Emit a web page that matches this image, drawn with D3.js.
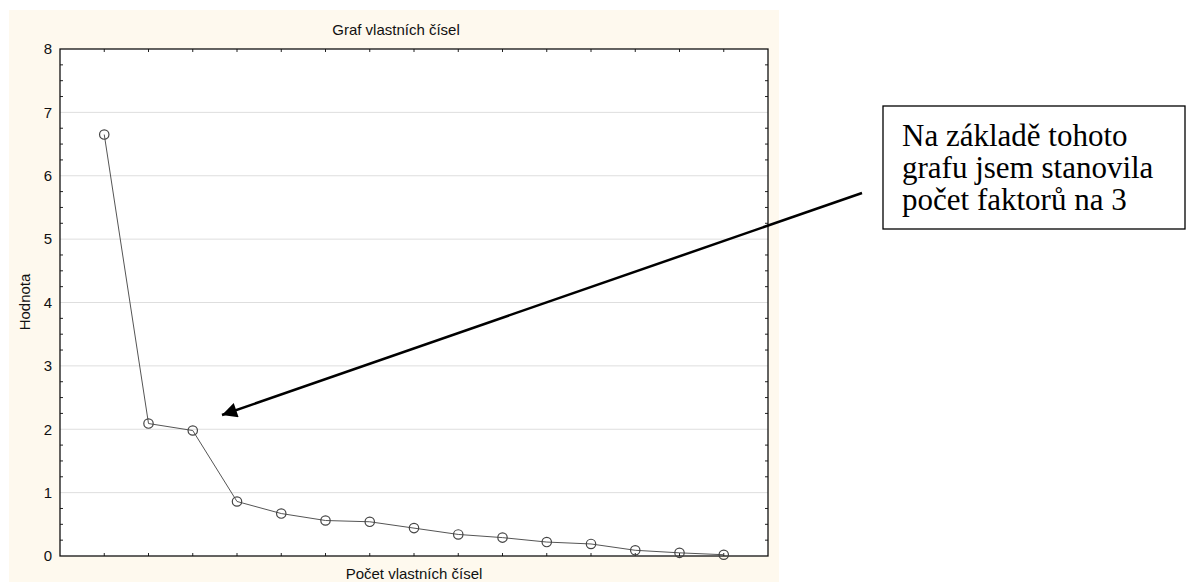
<!DOCTYPE html>
<html>
<head>
<meta charset="utf-8" />
<title>Graf vlastních čísel</title>
<style>
  body { margin: 0; background: #fff; }
  svg { display: block; }
</style>
</head>
<body>
<svg id="svg"></svg>
<script src="https://cdn.jsdelivr.net/npm/d3@7"></script>
<script>
// eigenvalues
var order = d3.range(1, 16);
var eigen = [6.65, 2.09, 1.98, 0.86, 0.67, 0.56, 0.54, 0.44, 0.34, 0.29, 0.22, 0.19, 0.09, 0.05, 0.02];
var yTicks = [0, 1, 2, 3, 4, 5, 6, 7, 8];
var noteLines = ["Na základě tohoto", "grafu jsem stanovila", "počet faktorů na 3"];

var width = 1189, height = 582;
var svg = d3.select("svg").attr("width", width).attr("height", height);

// cream panel behind the chart
svg.append("rect")
  .attr("x", 9).attr("y", 10).attr("width", 770).attr("height", 572)
  .attr("fill", "#fef9ee");

// note: "top" is taken by window.top, so use other names
var pL = 60, pR = 768, pT = 49, pB = 556;

var x = d3.scaleLinear().domain([0, 16]).range([pL, pR]);
var y = d3.scaleLinear().domain([0, 8]).range([pB, pT]);

svg.append("rect")
  .attr("x", pL).attr("y", pT).attr("width", pR - pL).attr("height", pB - pT)
  .attr("fill", "#fff");

// grid
svg.append("g").selectAll("line").data(yTicks.slice(1, -1)).enter().append("line")
  .attr("x1", pL).attr("x2", pR)
  .attr("y1", d => y(d)).attr("y2", d => y(d))
  .attr("stroke", "#dedede").attr("stroke-width", 1);

var fnt = "Arial, 'Liberation Sans', sans-serif";
var gl = svg.append("g").attr("transform", "translate(" + pL + ",0)")
  .call(d3.axisLeft(y).tickValues(yTicks).tickSize(0).tickPadding(8));
gl.selectAll("text").attr("font-family", fnt).attr("font-size", 15).attr("fill", "#111");
gl.select(".domain").remove();

// ticks point inward like the original
var minor = d3.range(0, 8.01, 0.25).filter(v => v % 1 !== 0);
var ticks = svg.append("g").attr("stroke", "#222").attr("stroke-width", 1);
ticks.selectAll(".ml").data(minor).enter().append("line")
  .attr("x1", pL).attr("x2", pL + 3).attr("y1", d => y(d)).attr("y2", d => y(d));
ticks.selectAll(".mr").data(minor).enter().append("line")
  .attr("x1", pR).attr("x2", pR - 3).attr("y1", d => y(d)).attr("y2", d => y(d));
ticks.selectAll(".xb").data(order).enter().append("line")
  .attr("x1", d => x(d)).attr("x2", d => x(d)).attr("y1", pB).attr("y2", pB - 3);
ticks.selectAll(".xt").data(order).enter().append("line")
  .attr("x1", d => x(d)).attr("x2", d => x(d)).attr("y1", pT).attr("y2", pT + 3);

svg.append("rect")
  .attr("x", pL).attr("y", pT).attr("width", pR - pL).attr("height", pB - pT)
  .attr("fill", "none").attr("stroke", "#111").attr("stroke-width", 1.3);

// series
var line = d3.line().x((d, i) => x(order[i])).y(d => y(d));
svg.append("path").datum(eigen)
  .attr("d", line).attr("fill", "none").attr("stroke", "#555").attr("stroke-width", 1);
svg.selectAll(".pt").data(eigen).enter().append("circle")
  .attr("cx", (d, i) => x(order[i])).attr("cy", d => y(d)).attr("r", 4.7)
  .attr("fill", "none").attr("stroke", "#444").attr("stroke-width", 1.2);

// titles
svg.append("text").attr("x", 396).attr("y", 35).attr("text-anchor", "middle")
  .attr("font-family", fnt).attr("font-size", 15).attr("fill", "#111")
  .text("Graf vlastních čísel");
svg.append("text").attr("x", 414).attr("y", 579).attr("text-anchor", "middle")
  .attr("font-family", fnt).attr("font-size", 15).attr("fill", "#111")
  .text("Počet vlastních čísel");
svg.append("text").attr("transform", "translate(30,302) rotate(-90)")
  .attr("text-anchor", "middle")
  .attr("font-family", fnt).attr("font-size", 15).attr("fill", "#111")
  .text("Hodnota");

// annotation box and arrow
svg.append("defs").append("marker")
  .attr("id", "head").attr("viewBox", "0 0 10 10").attr("refX", 10).attr("refY", 5)
  .attr("markerWidth", 8).attr("markerHeight", 6).attr("orient", "auto")
  .attr("markerUnits", "strokeWidth")
  .append("path").attr("d", "M0,0 L10,5 L0,10 z").attr("fill", "#000");
svg.append("line")
  .attr("x1", 862).attr("y1", 193).attr("x2", 222).attr("y2", 415)
  .attr("stroke", "#000").attr("stroke-width", 2.5).attr("marker-end", "url(#head)");

svg.append("rect")
  .attr("x", 883).attr("y", 106).attr("width", 302).attr("height", 123)
  .attr("fill", "#fff").attr("stroke", "#000").attr("stroke-width", 1.3);
svg.append("g").selectAll("text").data(noteLines).enter().append("text")
  .attr("x", 902).attr("y", (d, i) => 146 + i * 32)
  .attr("font-family", "'Liberation Serif', 'Times New Roman', serif")
  .attr("font-size", 31).attr("fill", "#000")
  .text(d => d);
</script>
</body>
</html>
